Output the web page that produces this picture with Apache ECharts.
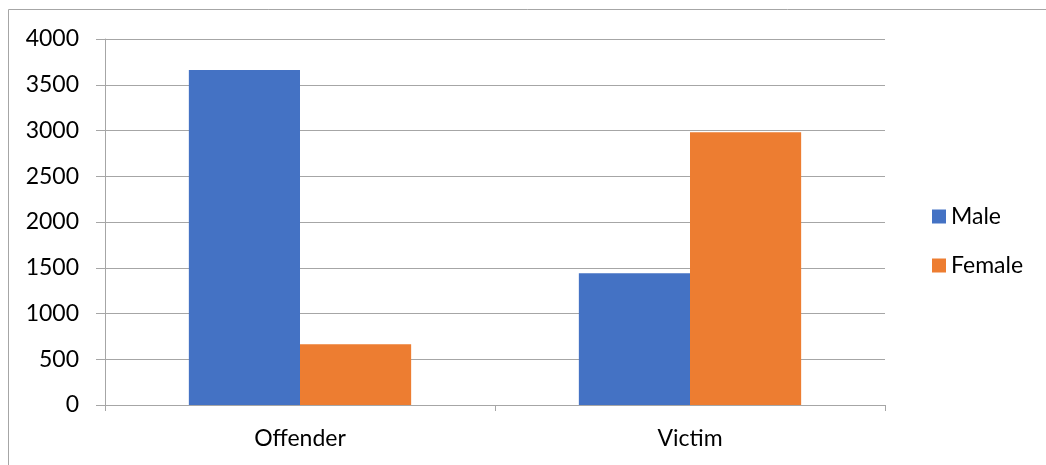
<!DOCTYPE html>
<html><head><meta charset="utf-8">
<script src="https://cdn.jsdelivr.net/npm/echarts@6/dist/echarts.min.js"></script>
<style>html,body{margin:0;padding:0;background:#fff}#c{width:1046px;height:465px}</style>
</head><body><div id="c"></div>
<script>
const categories = ['Offender', 'Victim'];
const maleValues = [3660, 1440];
const femaleValues = [665, 2980];
const seriesNames = ['Male', 'Female'];

const chart = echarts.init(document.getElementById('c'));
const font = 'Lato, "Open Sans", sans-serif';
chart.setOption({
  animation: false,
  textStyle: { fontFamily: font },
  graphic: [{
    type: 'rect', shape: { x: 8.5, y: 9.5, width: 1100, height: 500 },
    style: { fill: 'none', stroke: '#a6a6a6', lineWidth: 1 }, silent: true
  }],
  grid: { left: 105, right: 161, top: 39, bottom: 60, containLabel: false },
  legend: {
    orient: 'vertical', left: 927, top: 200, itemGap: 26,
    itemWidth: 14, itemHeight: 14, icon: 'rect', itemStyle: { borderWidth: 0 },
    textStyle: { fontSize: 23, color: '#000', fontFamily: font }
  },
  xAxis: {
    type: 'category', data: categories,
    axisLine: { lineStyle: { color: '#a6a6a6' } },
    axisTick: { show: true, length: 6, lineStyle: { color: '#a6a6a6' } },
    axisLabel: { fontSize: 23, color: '#000', margin: 22, fontFamily: font }
  },
  yAxis: {
    type: 'value', min: 0, max: 4000, interval: 500,
    axisLine: { show: true, lineStyle: { color: '#a6a6a6' } },
    axisTick: { show: true, length: 9, lineStyle: { color: '#a6a6a6' } },
    splitLine: { lineStyle: { color: '#a6a6a6' } },
    axisLabel: { fontSize: 23, color: '#000', margin: 26, fontFamily: font, formatter: v => String(v) }
  },
  series: [
    { name: seriesNames[0], type: 'bar', data: maleValues, itemStyle: { color: '#4472c4' }, barGap: '0%', barCategoryGap: '43%' },
    { name: seriesNames[1], type: 'bar', data: femaleValues, itemStyle: { color: '#ed7d31' }, barGap: '0%', barCategoryGap: '43%' }
  ]
});
</script></body></html>
